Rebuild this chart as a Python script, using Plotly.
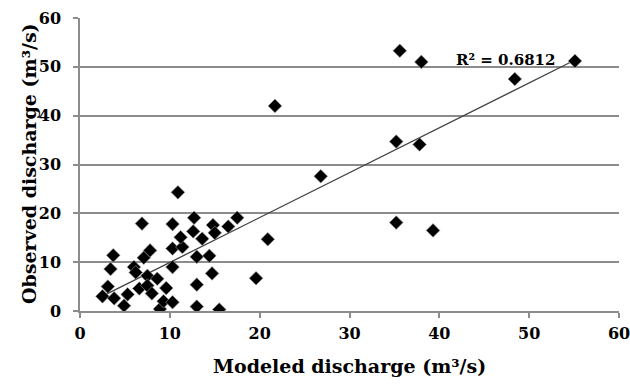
import numpy as np
import plotly.graph_objects as go

modeled = [2.5, 3.8, 3.1, 3.4, 3.7, 4.9, 5.3, 6.0, 6.2, 6.6, 7.1, 7.8, 7.5, 7.5,
           8.0, 8.6, 8.9, 9.3, 9.6, 10.3, 10.3, 10.3, 11.4, 11.2, 6.9, 10.3, 10.9,
           12.7, 12.6, 13.6, 14.8, 15.0, 16.5, 17.5, 13.0, 14.4, 14.7, 13.0, 13.0,
           15.5, 19.6, 20.9, 21.7, 26.8, 35.2, 37.8, 35.2, 39.3, 35.6, 38.0, 48.4, 55.1]
observed = [3.0, 2.6, 5.0, 8.6, 11.4, 1.1, 3.4, 9.0, 7.9, 4.6, 10.9, 12.4, 7.2, 5.2,
            3.6, 6.6, 0.4, 2.0, 4.7, 1.8, 9.0, 12.8, 13.1, 15.1, 17.9, 17.8, 24.3,
            19.1, 16.3, 14.8, 17.6, 16.0, 17.3, 19.1, 11.1, 11.3, 7.7, 5.4, 0.9,
            0.3, 6.7, 14.7, 42.0, 27.6, 34.7, 34.1, 18.1, 16.5, 53.3, 51.0, 47.5, 51.2]
r2_label = "R² = 0.6812"
x_title = "Modeled discharge (m³/s)"
y_title = "Observed discharge (m³/s)"
x_ticks = [0, 10, 20, 30, 40, 50, 60]
y_ticks = [0, 10, 20, 30, 40, 50, 60]

slope, intercept = np.polyfit(modeled, observed, 1)
fx = np.array([min(modeled), max(modeled)])
fy = slope * fx + intercept

serif = "DejaVu Serif"
fig = go.Figure()
fig.add_trace(go.Scatter(x=fx, y=fy, mode="lines",
                         line=dict(color="#404040", width=1.3), hoverinfo="skip"))
fig.add_trace(go.Scatter(x=modeled, y=observed, mode="markers",
                         marker=dict(symbol="diamond", size=10.5, color="black",
                                     line=dict(color="#9a9a9a", width=0.6))))
fig.add_annotation(x=47.4, y=51.4, text=r2_label, showarrow=False,
                   font=dict(family=serif, size=15, color="black", weight="bold"),
                   xanchor="center", yanchor="middle")
fig.add_annotation(x=0.5, y=0, xref="paper", yref="paper", text=x_title,
                   showarrow=False, xanchor="center", yanchor="middle", yshift=-55,
                   font=dict(family=serif, size=19, color="black", weight="bold"))
fig.add_annotation(x=0, y=0.5, xref="paper", yref="paper", text=y_title,
                   showarrow=False, xanchor="center", yanchor="middle",
                   textangle=-90, xshift=-51.5, yshift=1,
                   font=dict(family=serif, size=19, color="black", weight="bold"))

fig.update_layout(
    width=630, height=384,
    margin=dict(l=79.5, r=10.7, t=17.8, b=72.8),
    paper_bgcolor="white", plot_bgcolor="white",
    showlegend=False,
    font=dict(family=serif, color="black"),
)
fig.update_xaxes(range=[0, 60], tickvals=x_ticks, showgrid=False, zeroline=False,
                 automargin=False, ticklabeloverflow="allow",
                 showline=True, linecolor="#8c8c8c", linewidth=1.5,
                 ticks="outside", ticklen=5, tickcolor="#8c8c8c", tickwidth=1.5,
                 ticklabelstandoff=2,
                 tickfont=dict(family=serif, size=16, color="black", weight="bold"))
fig.update_yaxes(range=[0, 60], tickvals=y_ticks, showgrid=True, gridcolor="#8c8c8c",
                 gridwidth=1.5, zeroline=False, automargin=False,
                 ticklabeloverflow="allow",
                 showline=True, linecolor="#8c8c8c", linewidth=1.5,
                 ticks="outside", ticklen=5, tickcolor="#8c8c8c", tickwidth=1.5,
                 ticklabelstandoff=9,
                 tickfont=dict(family=serif, size=16, color="black", weight="bold"))

fig.write_html("out.html", config={"displayModeBar": False},
               post_script="document.body.style.margin='0';document.body.style.overflow='hidden';")
